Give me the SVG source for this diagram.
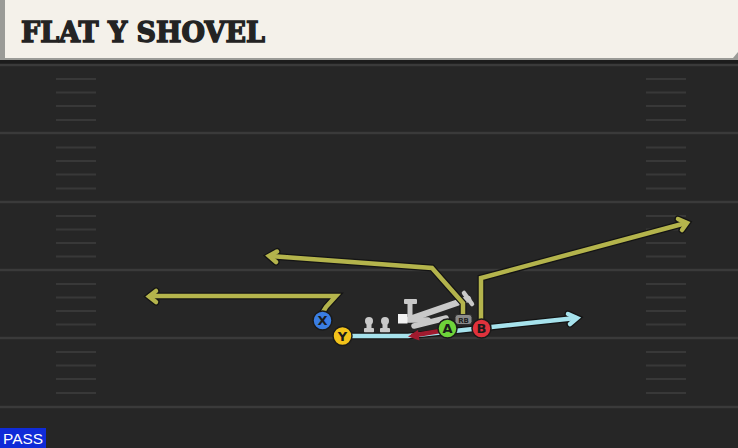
<svg xmlns="http://www.w3.org/2000/svg" width="738" height="448" viewBox="0 0 738 448">
<style>
.yard{stroke:#3a3a3a;stroke-width:2.5}
.out{fill:none;stroke:#141414;stroke-width:7;stroke-linejoin:miter;stroke-linecap:round}
.olive{fill:none;stroke:#b4b44c;stroke-width:4.5;stroke-linejoin:miter;stroke-linecap:round}
.blue{fill:none;stroke:#a6e2ec;stroke-width:4.5;stroke-linejoin:miter;stroke-linecap:round}
.red{fill:none;stroke:#a01a2e;stroke-width:4.5;stroke-linejoin:miter;stroke-linecap:round}
.gray{fill:none;stroke:#c9c9c9;stroke-linecap:round}
.pl{stroke:#1a1a1a;stroke-width:1.5}
.lbl{font-family:"DejaVu Sans",sans-serif;font-weight:bold;font-size:13px;fill:#1b1b1b;text-anchor:middle}
</style>
<rect x="0" y="0" width="738" height="448" fill="#262626"/>
<rect x="0" y="58" width="738" height="7" fill="#1c1c1c"/>
<g id="field">
<line class="yard" x1="0" y1="65" x2="738" y2="65"/>
<line class="yard" x1="0" y1="133" x2="738" y2="133"/>
<line class="yard" x1="0" y1="202" x2="738" y2="202"/>
<line class="yard" x1="0" y1="270" x2="738" y2="270"/>
<line class="yard" x1="0" y1="338" x2="738" y2="338"/>
<line class="yard" x1="0" y1="407" x2="738" y2="407"/>
<g stroke-width="2">
<path d="M56 79H96M56 92.5H96M56 106H96M56 120H96M56 147.5H96M56 161H96M56 174.5H96M56 188.5H96M56 216H96M56 229.5H96M56 243H96M56 256.5H96M56 284H96M56 297.5H96M56 311H96M56 324.5H96M56 352H96M56 365.5H96M56 379H96M56 393H96" stroke="#383838"/>
<path d="M646 79H686M646 92.5H686M646 106H686M646 120H686M646 147.5H686M646 161H686M646 174.5H686M646 188.5H686M646 216H686M646 229.5H686M646 243H686M646 256.5H686M646 284H686M646 297.5H686M646 311H686M646 324.5H686M646 352H686M646 365.5H686M646 379H686M646 393H686" stroke="#383838"/>
</g>
</g>
<g id="header">
<rect x="0" y="0" width="738" height="60" fill="#9a9b97"/>
<path d="M5 0H738V52L733 58H5Z" fill="#f4f1ea"/>
<text x="21" y="42" font-family="'DejaVu Serif','Liberation Serif',serif" font-weight="bold" font-size="27" fill="#232323" stroke="#232323" stroke-width="1.4" textLength="244" lengthAdjust="spacingAndGlyphs">FLAT Y SHOVEL</text>
</g>
<g id="line">
<g fill="#c9c9c9">
<circle cx="369" cy="321" r="4"/><rect x="366.5" y="321" width="5" height="9"/><rect x="364" y="328" width="10" height="4.5" rx="1"/>
<circle cx="385" cy="321" r="4"/><rect x="382.5" y="321" width="5" height="9"/><rect x="380" y="328" width="10" height="4.5" rx="1"/>
<rect x="404" y="299" width="13" height="5" rx="1"/>
<rect x="407.5" y="299" width="5" height="19"/>
</g>
<line class="gray" x1="410" y1="319" x2="468" y2="299" stroke-width="6.5"/>
<line class="gray" x1="414" y1="326" x2="446" y2="318" stroke-width="5.5"/>
<line class="gray" x1="408" y1="320" x2="428" y2="320" stroke-width="5.5"/>
<line class="gray" x1="464" y1="293" x2="472" y2="304" stroke-width="4.5"/>
<rect x="398" y="314" width="9.5" height="9.5" fill="#f2f2f2"/>
</g>
<g id="connectors">
<path class="out" d="M323 312L326 307L336 296H150"/>
<path class="out" d="M156 291L149 296.5L156 302"/>
<path class="olive" d="M323 312L326 307L336 296H150"/>
<path class="olive" d="M156 291L149 296.5L156 302"/>
<path class="out" d="M463 314V303L432 268L270 256"/>
<path class="out" d="M277 251.5L269 256L276 262"/>
<path class="olive" d="M463 314V303L432 268L270 256"/>
<path class="olive" d="M277 251.5L269 256L276 262"/>
<path class="out" d="M481 320V278L686 223"/>
<path class="out" d="M678 219L687 223L682 230"/>
<path class="olive" d="M481 320V278L686 223"/>
<path class="olive" d="M678 219L687 223L682 230"/>
<path class="out" d="M350 336H408L576 318"/>
<path class="out" d="M568 314L577 318L570 324"/>
<path class="blue" d="M350 336H408L576 318"/>
<path class="blue" d="M568 314L577 318L570 324"/>
<path class="red" d="M440 331L413 335.5"/>
<path d="M408 336.5L418 330L419.5 340.5Z" fill="#a01a2e"/>
</g>
<g id="RB">
<rect x="455" y="314.5" width="17" height="10" rx="3" fill="#8a8a8a" stroke="#2a2a2a" stroke-width="1"/>
<text x="463.5" y="322.5" font-family="'DejaVu Sans',sans-serif" font-size="7" font-weight="bold" fill="#1e1e1e" text-anchor="middle">RB</text>
</g>
<g id="X"><circle class="pl" cx="322.5" cy="320.5" r="9.5" fill="#3a7de2"/><text class="lbl" x="322.5" y="325.3">X</text></g>
<g id="Y"><circle class="pl" cx="342.5" cy="336" r="9.5" fill="#f2c21a"/><text class="lbl" x="342.5" y="340.8">Y</text></g>
<g id="A"><circle class="pl" cx="447.5" cy="328.5" r="9.5" fill="#6fd33a"/><text class="lbl" x="447.5" y="333.3">A</text></g>
<g id="B"><circle class="pl" cx="481.5" cy="328.5" r="9.5" fill="#e0323c"/><text class="lbl" x="481.5" y="333.3">B</text></g>
<g id="pass">
<rect x="0" y="428" width="46" height="20" fill="#0f2bd8"/>
<text x="23" y="444" font-family="'Liberation Sans',sans-serif" font-size="15" fill="#ffffff" text-anchor="middle" textLength="40" lengthAdjust="spacingAndGlyphs">PASS</text>
</g>
</svg>
